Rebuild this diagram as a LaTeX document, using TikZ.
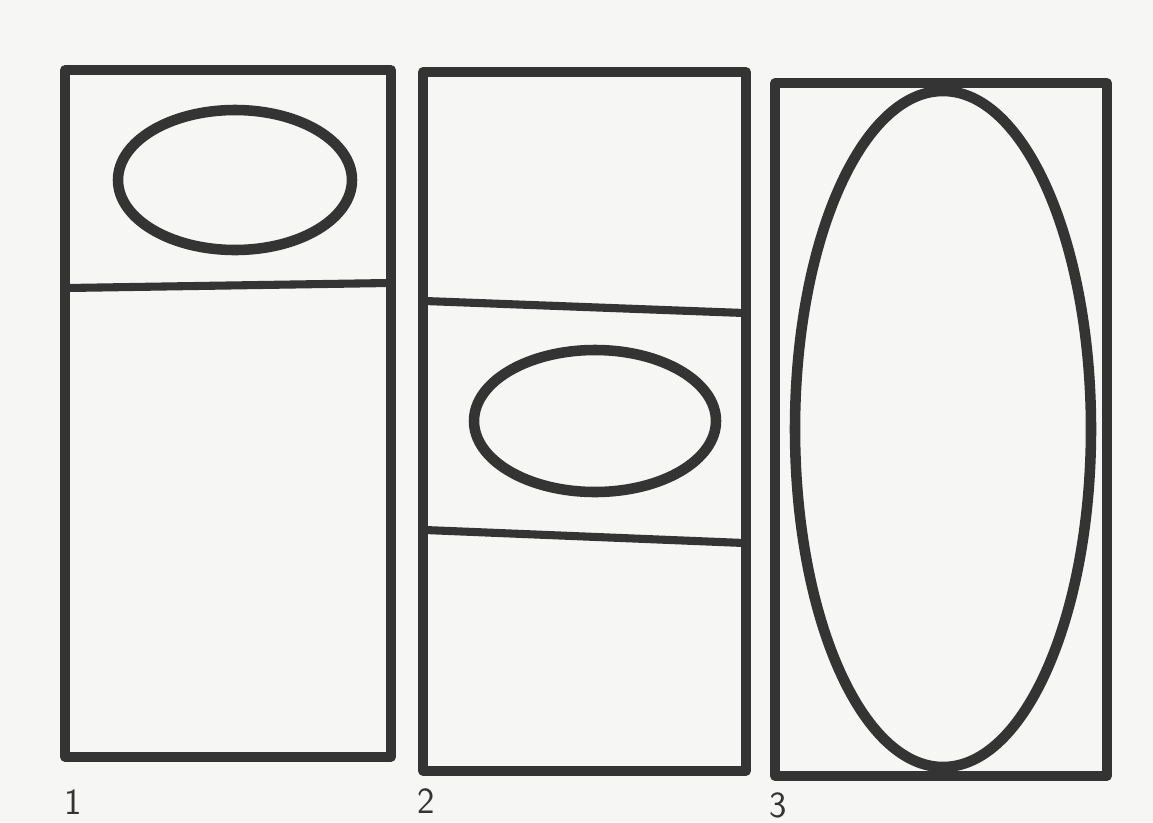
\documentclass[tikz,border=0pt]{standalone}
\usepackage{tikz}
\usetikzlibrary{positioning}
\definecolor{ink}{RGB}{52,52,52}
\definecolor{paper}{RGB}{246,246,244}

\begin{document}
\begin{tikzpicture}[x=0.02cm, y=-0.02cm,
    frame/.style={ink, line width=5.4pt, line join=round},
    rule/.style={ink, line width=4.6pt, line cap=round},
    oval/.style={ink, line width=6pt},
    num/.style={ink, font=\fontsize{21}{24}\sffamily, inner sep=0pt}]
    \fill[paper] (0,0) rectangle (1153,822);
    \useasboundingbox (0,0) rectangle (1153,822);

    % the three panels
    \draw[frame] (65,70) rectangle (391,757);
    \draw[frame] (423,72) rectangle (746,771);
    \draw[frame] (775,83) rectangle (1107,776);

    % dividers --- panel 1 has one, panel 2 has two
    \draw[rule] (67,288) -- (389,283);
    \draw[rule] (425,301) -- (744,313);
    \draw[rule] (425,530) -- (744,543);

    % the ovals
    \draw[oval] (235,180) ellipse [x radius=117, y radius=70];
    \draw[oval] (595,421) ellipse [x radius=121, y radius=71];
    \draw[oval] (943,429) ellipse [x radius=148, y radius=338];

    % panel numbers
    \node[num] (n1) at (73,802) {1};
    \node[num] (n2) at (426,801) {2};
    \node[num] (n3) at (778,805) {3};
\end{tikzpicture}
\end{document}
